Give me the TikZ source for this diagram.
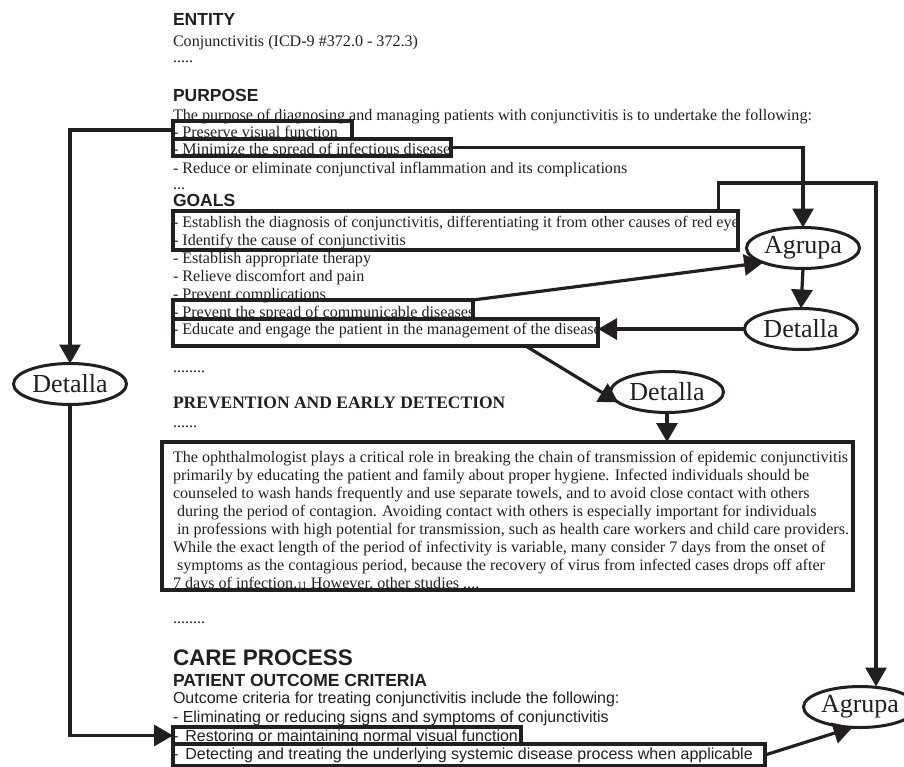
\documentclass[tikz,border=0pt]{standalone}
\usepackage{fontspec}
\setmainfont{Liberation Serif}
\setsansfont{Liberation Sans}
\usetikzlibrary{arrows.meta,shapes.geometric,fit,calc}
\definecolor{ink}{HTML}{231F20}

\begin{document}
\begin{tikzpicture}[x=1pt,y=-1pt,
  every node/.style={inner sep=0pt, outer sep=0pt, text=ink},
  body/.style={anchor=base west, font=\fontsize{16.1}{18}\selectfont},
  sbody/.style={anchor=base west, font=\sffamily\fontsize{16}{18}\selectfont},
  head/.style={anchor=base west, font=\sffamily\bfseries\fontsize{17.5}{20}\selectfont},
  hbox/.style={draw=ink, line width=3.2pt, rectangle},
  oval/.style={ellipse, draw=ink, line width=3pt, fill=white,
    minimum width=113pt, minimum height=41pt, font=\fontsize{26}{28}\selectfont},
  link/.style={draw=ink, line width=3.2pt, -{Triangle[length=19pt,width=21pt]}}
]
\useasboundingbox (0,0) rectangle (904,766);

% ---------- ENTITY / PURPOSE ----------
\node[head] (hEnt) at (173,25) {ENTITY};
\node[body] (tEnt) at (173,46) {Conjunctivitis (ICD-9 \#372.0 - 372.3)};
\node[body] (dEnt) at (173,62) {.....};
\node[head] (hPur) at (173,101) {PURPOSE};
\node[body] (tPur) at (173,120) {The purpose of diagnosing and managing patients with conjunctivitis is to undertake the following:};
\node[body] (tPres) at (173,137) {- Preserve visual function};
\node[body] (tMin) at (173,154) {- Minimize the spread of infectious disease};
\node[body] (tRed) at (173,173) {- Reduce or eliminate conjunctival inflammation and its complications};
\node[body] (dPur) at (173,189) {...};

% ---------- GOALS ----------
\node[head] (hGoa) at (173,206) {GOALS};
\node[body] (tEst) at (173,227) {- Establish the diagnosis of conjunctivitis, differentiating it from other causes of red eye};
\node[body] (tIde) at (173,245) {- Identify the cause of conjunctivitis};
\node[body] (tThe) at (173,263) {- Establish appropriate therapy};
\node[body] (tRel) at (173,281) {- Relieve discomfort and pain};
\node[body] (tCom) at (173,299) {- Prevent complications};
\node[body] (tSpr) at (173,317) {- Prevent the spread of communicable diseases};
\node[body] (tEdu) at (173,334) {- Educate and engage the patient in the management of the disease};
\node[body] (dGoa) at (173,372) {........};

% ---------- PREVENTION ----------
\node[anchor=base west, font=\bfseries\fontsize{17.5}{20}\selectfont] (hPre) at (173,408) {PREVENTION AND EARLY DETECTION};
\node[body] (dPre) at (173,427) {......};
\node[body] (p1) at (173,462) {The ophthalmologist plays a critical role in breaking the chain of transmission of epidemic conjunctivitis};
\node[body] (p2) at (173,480) {primarily by educating the patient and family about proper hygiene. Infected individuals should be};
\node[body] (p3) at (173,498) {counseled to wash hands frequently and use separate towels, and to avoid close contact with others};
\node[body] (p4) at (177,516) {during the period of contagion. Avoiding contact with others is especially important for individuals};
\node[body] (p5) at (177,534) {in professions with high potential for transmission, such as health care workers and child care providers.};
\node[body] (p6) at (173,552) {While the exact length of the period of infectivity is variable, many consider 7 days from the onset of};
\node[body] (p7) at (177,570) {symptoms as the contagious period, because the recovery of virus from infected cases drops off after};
\node[body] (p8) at (173,588) {7 days of infection.{\fontsize{10}{12}\selectfont 11} However, other studies ....};
\node[body] (dPar) at (173,623) {........};

% ---------- CARE PROCESS ----------
\node[anchor=base west, font=\sffamily\bfseries\fontsize{22.5}{26}\selectfont] (hCar) at (173,665) {CARE PROCESS};
\node[head] (hOut) at (173,686) {PATIENT OUTCOME CRITERIA};
\node[sbody] (tOut) at (173,703) {Outcome criteria for treating conjunctivitis include the following:};
\node[sbody] (tEli) at (173,722) {- Eliminating or reducing signs and symptoms of conjunctivitis};
\node[sbody] (tRes) at (173,741) {-\hspace{7pt}Restoring or maintaining normal visual function};
\node[sbody] (tDet) at (173,759) {-\hspace{7pt}Detecting and treating the underlying systemic disease process when applicable};

% ---------- highlight boxes ----------
\node[hbox, fit={(173,121) (352,139)}] (bPres) {};
\node[hbox, fit={(173,139) (451,156)}] (bMin) {};
\node[hbox, fit={(173,211) (738,250)}] (bGoals) {};
\node[hbox, fit={(173,300) (473,319)}] (bSpread) {};
\node[hbox, fit={(173,319) (598,346)}] (bEdu) {};
\node[hbox, fit={(162,442) (853,590)}] (bPara) {};
\node[hbox, fit={(173,727) (521,744)}] (bRest) {};
\node[hbox, fit={(173,744) (765,766)}] (bDet) {};

% ---------- relation ovals ----------
\node[oval] (agTop) at (803,248) {Agrupa};
\node[oval] (dtR) at (801,329) {Detalla};
\node[oval] (dtM) at (667,392) {Detalla};
\node[oval] (dtL) at (70,384) {Detalla};
\node[oval] (agB) at (860,707) {Agrupa};

% ---------- connectors ----------
\draw[link] (bPres.west) -| (dtL.north);
\draw[link] (dtL.south) |- (bRest.west);
\draw[link] (bMin.east) -| (agTop.north);
\draw[link] (bSpread.north east) -- (agTop.200);
\draw[link] (agTop.south) -- (dtR.north);
\draw[link] (dtR.west) -- (dtR.west -| bEdu.east);
\draw[link] ($(bEdu.south west)!0.83!(bEdu.south east)$) -- (dtM.192);
\draw[link] (dtM.south) -- (dtM.south |- bPara.north);
\coordinate (gTop) at ($(bGoals.north west)!0.966!(bGoals.north east)$);
\coordinate (rTurn) at (876,183);
\draw[link] (gTop) |- (rTurn) -- (rTurn |- agB.north);
\draw[link] (bDet.east) -- (agB.250);
\end{tikzpicture}
\end{document}
